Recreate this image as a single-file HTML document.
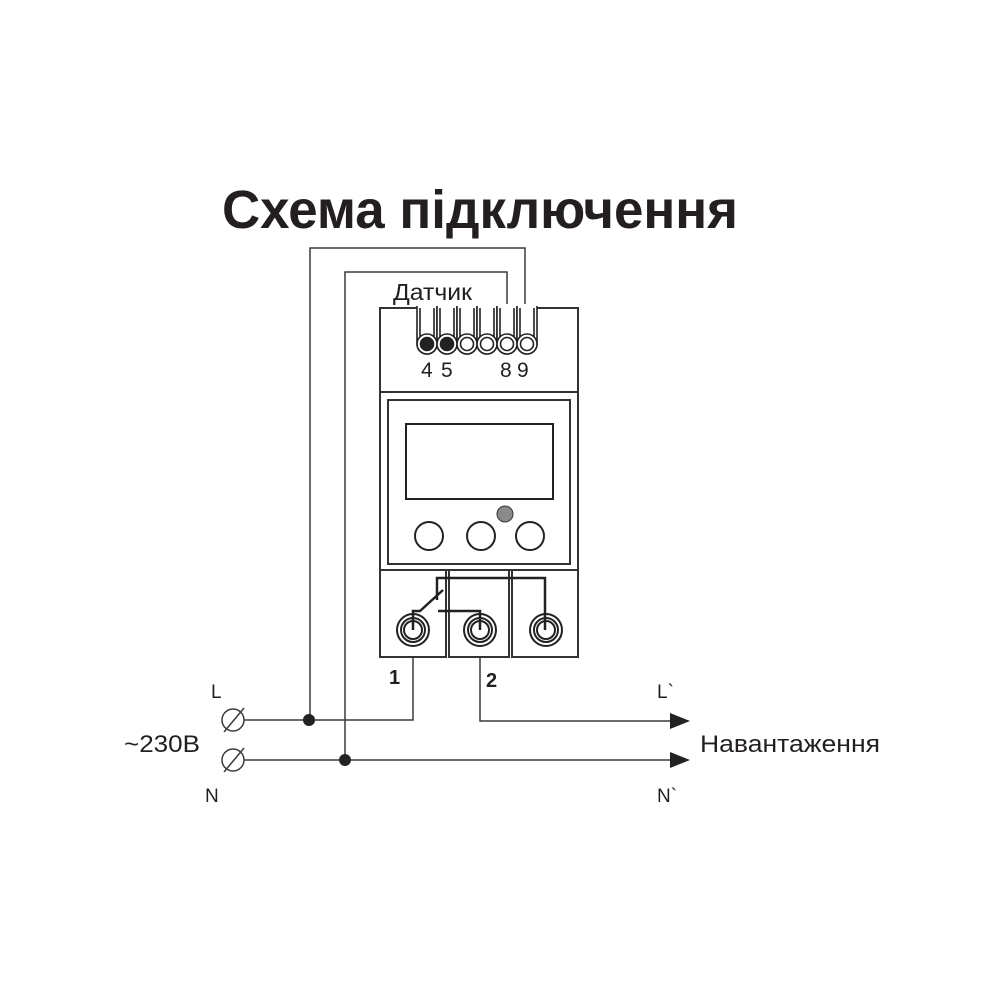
<!DOCTYPE html>
<html><head><meta charset="utf-8"><style>
html,body{margin:0;padding:0;background:#fff}
svg{display:block}
text{font-family:"Liberation Sans",Arial,sans-serif;fill:#231f20}
</style></head><body>
<svg width="1000" height="1000" viewBox="0 0 1000 1000" xmlns="http://www.w3.org/2000/svg">
<text x="222" y="228" font-size="54" font-weight="bold" textLength="516" lengthAdjust="spacingAndGlyphs">Схема підключення</text>

<g fill="none" stroke="#3a3a3a" stroke-width="1.5">
<polyline points="310,720 310,248 525,248 525,308"/>
<polyline points="345,760 345,272 507,272 507,308"/>
<rect x="380" y="308" width="198" height="84" stroke="#333" stroke-width="2"/>
<rect x="380" y="392" width="198" height="178" stroke="#333" stroke-width="2"/>
<rect x="388" y="400" width="182" height="164" stroke="#333" stroke-width="2"/>
<rect x="406" y="424" width="147" height="75" stroke="#222" stroke-width="2"/>
<circle cx="429" cy="536" r="14" stroke="#222" stroke-width="2"/>
<circle cx="481" cy="536" r="14" stroke="#222" stroke-width="2"/>
<circle cx="530" cy="536" r="14" stroke="#222" stroke-width="2"/>
<rect x="380" y="570" width="66" height="87" stroke="#333" stroke-width="2"/>
<rect x="449" y="570" width="60" height="87" stroke="#333" stroke-width="2"/>
<rect x="512" y="570" width="66" height="87" stroke="#333" stroke-width="2"/>
</g>
<circle cx="505" cy="514" r="8" fill="#8a8a8a" stroke="#333" stroke-width="1"/>

<g stroke="#222" stroke-width="1.6">
<rect x="417" y="304" width="120" height="6" fill="#fff" stroke="none"/>
<g fill="#fff">
<path d="M417,306 V344 A10,10 0 0 0 437,344 V306"/>
<path d="M437,306 V344 A10,10 0 0 0 457,344 V306"/>
<path d="M457,306 V344 A10,10 0 0 0 477,344 V306"/>
<path d="M477,306 V344 A10,10 0 0 0 497,344 V306"/>
<path d="M497,306 V344 A10,10 0 0 0 517,344 V306"/>
<path d="M517,306 V344 A10,10 0 0 0 537,344 V306"/>
<path d="M420,308 V344 M434,308 V344 M440,308 V344 M454,308 V344 M460,308 V344 M474,308 V344 M480,308 V344 M494,308 V344 M500,308 V344 M514,308 V344 M520,308 V344 M534,308 V344" fill="none"/>
<circle cx="427" cy="344" r="10"/><circle cx="447" cy="344" r="10"/><circle cx="467" cy="344" r="10"/>
<circle cx="487" cy="344" r="10"/><circle cx="507" cy="344" r="10"/><circle cx="527" cy="344" r="10"/>
<circle cx="467" cy="344" r="6.5"/><circle cx="487" cy="344" r="6.5"/><circle cx="507" cy="344" r="6.5"/><circle cx="527" cy="344" r="6.5"/>
</g>
<circle cx="427" cy="344" r="6.5" fill="#222"/><circle cx="447" cy="344" r="6.5" fill="#222"/>
</g>
<text x="393" y="300" font-size="23" textLength="79" lengthAdjust="spacingAndGlyphs">Датчик</text>
<text x="421" y="377" font-size="21">4</text>
<text x="441" y="377" font-size="21">5</text>
<text x="500" y="377" font-size="21">8</text>
<text x="517" y="377" font-size="21">9</text>

<g fill="none" stroke="#222" stroke-width="2">
<circle cx="413" cy="630" r="16"/><circle cx="413" cy="630" r="12"/><circle cx="413" cy="630" r="9"/>
<circle cx="480" cy="630" r="16"/><circle cx="480" cy="630" r="12"/><circle cx="480" cy="630" r="9"/>
<circle cx="546" cy="630" r="16"/><circle cx="546" cy="630" r="12"/><circle cx="546" cy="630" r="9"/>
<polyline points="413,630 413,611 420,611 443,590" stroke-width="2.5"/>
<polyline points="437,600 437,578 545,578 545,630" stroke-width="2.5"/>
<polyline points="438,611 480,611 480,630" stroke-width="2.5"/>
</g>
<text x="389" y="684" font-size="20" font-weight="bold">1</text>
<text x="486" y="687" font-size="20" font-weight="bold">2</text>

<g fill="none" stroke="#3a3a3a" stroke-width="1.5">
<polyline points="244,720 413,720 413,657"/>
<polyline points="480,657 480,721 672,721"/>
<line x1="244" y1="760" x2="672" y2="760"/>
<circle cx="233" cy="720" r="11"/><circle cx="233" cy="760" r="11"/>
<line x1="224" y1="732" x2="244" y2="708"/><line x1="224" y1="772" x2="244" y2="748"/>
</g>
<circle cx="309" cy="720" r="6" fill="#222"/>
<circle cx="345" cy="760" r="6" fill="#222"/>
<polygon points="670,713 690,721 670,729" fill="#222"/>
<polygon points="670,752 690,760 670,768" fill="#222"/>
<text x="211" y="698" font-size="19">L</text>
<text x="205" y="802" font-size="19">N</text>
<text x="124" y="752" font-size="24" textLength="76" lengthAdjust="spacingAndGlyphs">~230В</text>
<text x="657" y="698" font-size="19">L`</text>
<text x="657" y="802" font-size="19">N`</text>
<text x="700" y="752" font-size="24" textLength="180" lengthAdjust="spacingAndGlyphs">Навантаження</text>
</svg>
</body></html>
